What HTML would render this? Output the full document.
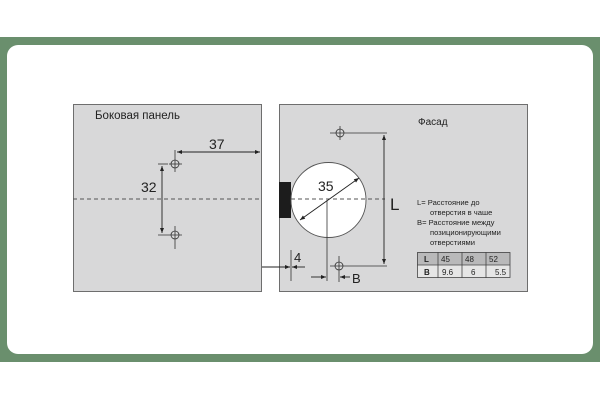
<!DOCTYPE html>
<html><head><meta charset="utf-8"><style>
html,body{margin:0;padding:0;background:#fff;width:600px;height:400px;overflow:hidden}
svg{display:block}
text{font-family:"Liberation Sans","DejaVu Sans",sans-serif;fill:#222}
</style></head><body>
<svg width="600" height="400" viewBox="0 0 600 400" xmlns="http://www.w3.org/2000/svg">
<defs>
<marker id="a" viewBox="0 0 10 10" refX="10" refY="5" markerWidth="7" markerHeight="5" orient="auto-start-reverse" markerUnits="userSpaceOnUse"><path d="M0,1 L10,5 L0,9 z" fill="#222"/></marker>
</defs>
<rect x="0" y="37" width="600" height="325" fill="#6a8f6d"/>
<rect x="7" y="45" width="586" height="309" rx="11" fill="#fff"/>
<!-- left panel -->
<rect x="73.5" y="104.5" width="188" height="187" fill="#d8d8d9" stroke="#6e6e6e" stroke-width="1"/>
<text x="95" y="119" font-size="11.5">Боковая панель</text>
<line x1="73" y1="199" x2="262" y2="199" stroke="#555" stroke-dasharray="4,3" stroke-width="0.9"/>
<g stroke="#333" stroke-width="0.8" fill="none">
<circle cx="175" cy="164" r="4"/><line x1="169" y1="164" x2="182" y2="164"/><line x1="175" y1="150" x2="175" y2="172"/>
<circle cx="175" cy="235" r="4"/><line x1="158" y1="235" x2="182" y2="235"/><line x1="175" y1="226" x2="175" y2="249"/>
<line x1="158" y1="164" x2="168" y2="164"/>
</g>
<line x1="177" y1="152" x2="260" y2="152" stroke="#222" stroke-width="0.9" marker-start="url(#a)" marker-end="url(#a)"/>
<line x1="162" y1="166" x2="162" y2="233" stroke="#222" stroke-width="0.9" marker-start="url(#a)" marker-end="url(#a)"/>
<text x="209" y="149" font-size="14">37</text>
<text x="141" y="192" font-size="14">32</text>
<!-- right panel -->
<rect x="279.5" y="104.5" width="248" height="187" fill="#d8d8d9" stroke="#6e6e6e" stroke-width="1"/>
<text x="418" y="125" font-size="10">Фасад</text>
<rect x="279" y="182" width="12" height="36" fill="#1c1c1c"/>
<circle cx="328.5" cy="200" r="37.5" fill="#fff" stroke="#555" stroke-width="0.9"/>
<line x1="291" y1="199" x2="385" y2="199" stroke="#555" stroke-dasharray="4,3" stroke-width="0.9"/>
<line x1="300" y1="220" x2="359" y2="178" stroke="#222" stroke-width="0.9" marker-start="url(#a)" marker-end="url(#a)"/>
<text x="318" y="191" font-size="14">35</text>
<g stroke="#333" stroke-width="0.8" fill="none">
<line x1="327" y1="200" x2="327" y2="281"/>
<circle cx="340" cy="133" r="4"/><line x1="330" y1="133" x2="387" y2="133"/><line x1="340" y1="126" x2="340" y2="140"/>
<circle cx="339" cy="266" r="4"/><line x1="330" y1="266" x2="387" y2="266"/><line x1="339" y1="256" x2="339" y2="282"/>
<line x1="291" y1="250" x2="291" y2="281"/>
</g>
<line x1="384" y1="135" x2="384" y2="264" stroke="#222" stroke-width="0.9" marker-start="url(#a)" marker-end="url(#a)"/>
<text x="390" y="210" font-size="17">L</text>
<line x1="262" y1="267" x2="290" y2="267" stroke="#222" stroke-width="0.9" marker-end="url(#a)"/>
<line x1="305" y1="267" x2="292" y2="267" stroke="#222" stroke-width="0.9" marker-end="url(#a)"/>
<text x="294" y="262" font-size="13">4</text>
<line x1="311" y1="277" x2="326" y2="277" stroke="#222" stroke-width="0.9" marker-end="url(#a)"/>
<line x1="350" y1="277" x2="340" y2="277" stroke="#222" stroke-width="0.9" marker-end="url(#a)"/>
<text x="352" y="283" font-size="13">B</text>
<g font-size="7.6">
<text x="417" y="205">L= Расстояние до</text>
<text x="430" y="215">отверстия в чаше</text>
<text x="417" y="225">B= Расстояние между</text>
<text x="430" y="235">позиционирующими</text>
<text x="430" y="245">отверстиями</text>
</g>
<rect x="417" y="252" width="93" height="13" fill="#b9b9ba"/>
<rect x="417" y="265" width="93" height="13" fill="#e6e6e6"/>
<g stroke="#444" stroke-width="0.8" fill="none">
<rect x="417.5" y="252.5" width="92.5" height="25"/>
<line x1="417" y1="265" x2="510" y2="265"/>
<line x1="438" y1="252" x2="438" y2="278"/>
<line x1="462" y1="252" x2="462" y2="278"/>
<line x1="486" y1="252" x2="486" y2="278"/>
</g>
<g font-size="8">
<text x="424" y="262" font-weight="bold">L</text>
<text x="441" y="262">45</text><text x="465" y="262">48</text><text x="489" y="262">52</text>
<text x="424" y="275" font-weight="bold">B</text>
<text x="442" y="275">9.6</text><text x="471" y="275">6</text><text x="495" y="275">5.5</text>
</g>
</svg>
</body></html>
